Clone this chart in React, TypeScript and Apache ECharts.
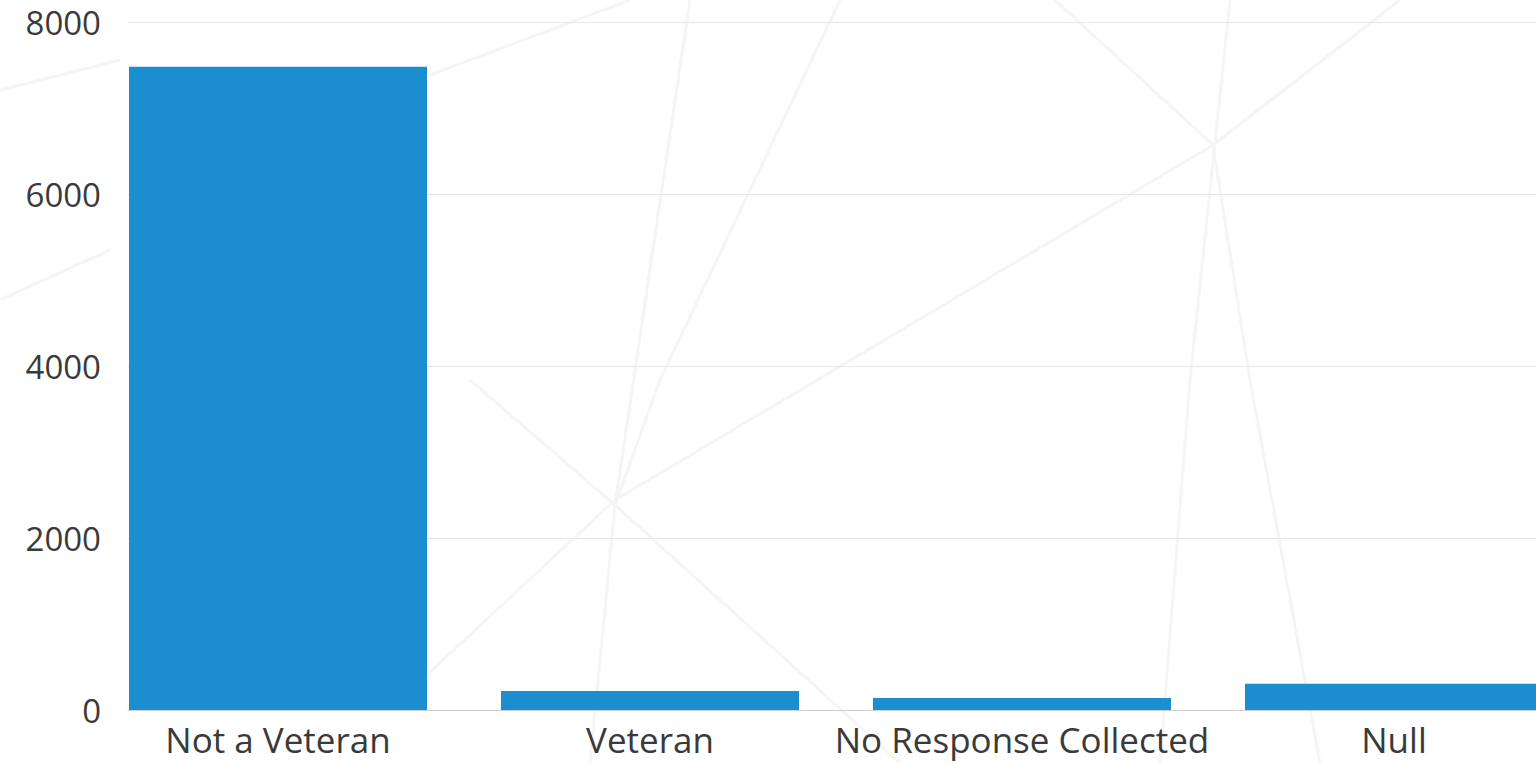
import React, { useEffect, useRef } from "react";
import * as echarts from "echarts";

const categories = ["Not a Veteran", "Veteran", "No Response Collected", "Null"];
const counts = [7480, 220, 140, 305];
const yTicks = [0, 2000, 4000, 6000, 8000];
const xPositions = [0, 1, 2, 3];

const bgLines: number[][][] = [
  [[1055, 0], [1213, 145], [1400, 0]],
  [[1400, 0], [1213, 145], [615, 500], [400, 700]],
  [[1230, 0], [1190, 380], [1160, 763]],
  [[1213, 145], [1250, 380], [1320, 763]],
  [[690, 0], [615, 505], [590, 763]],
  [[840, 0], [660, 380], [615, 505]],
  [[430, 75], [630, 0]],
  [[470, 380], [615, 505], [900, 763]],
  [[0, 90], [120, 60]],
  [[0, 300], [110, 250]],
];

export default function App() {
  const ref = useRef<HTMLDivElement>(null);
  useEffect(() => {
    if (!ref.current) return;
    const chart = echarts.init(ref.current, undefined, { renderer: "svg" });
    const font = "'Open Sans', 'Noto Sans', sans-serif";
    // band of 372px per category, first band starting at x=92, container ends at 1536
    const bandPx = 372;
    const gridLeft = 92;
    const xMax = -0.5 + (1536 - gridLeft) / bandPx;
    chart.setOption({
      animation: false,
      backgroundColor: "#ffffff",
      textStyle: { fontFamily: font },
      graphic: bgLines.map((pts) => ({
        type: "polyline",
        silent: true,
        z: -10,
        shape: { points: pts },
        style: { stroke: "#f5f5f5", lineWidth: 3, fill: null },
      })),
      grid: [
        { left: gridLeft, right: 0, top: 22, bottom: 53 },
        { left: 128, right: 0, top: 22, bottom: 53 },
      ],
      xAxis: [
        {
          type: "value",
          gridIndex: 0,
          min: -0.5,
          max: xMax,
          axisLine: { show: false },
          axisTick: { show: false },
          splitLine: { show: false },
          axisLabel: {
            color: "#3a3a3a",
            fontSize: 35,
            fontFamily: font,
            margin: 12,
            customValues: xPositions,
            formatter: (v: number) => categories[Math.round(v)] ?? "",
          },
        },
        {
          type: "value",
          gridIndex: 1,
          min: 0,
          max: 1,
          axisLine: { show: true, onZero: false, lineStyle: { color: "#cfcfcf", width: 1 } },
          axisTick: { show: false },
          axisLabel: { show: false },
          splitLine: { show: false },
        },
      ],
      yAxis: [
        {
          type: "value",
          gridIndex: 0,
          min: 0,
          max: 8000,
          interval: 2000,
          axisLine: { show: false },
          axisTick: { show: false },
          axisLabel: { show: false },
          splitLine: { show: false },
        },
        {
          type: "value",
          gridIndex: 1,
          min: 0,
          max: 8000,
          interval: 2000,
          axisLine: { show: false },
          axisTick: { show: false },
          axisLabel: {
            color: "#3a3a3a",
            fontSize: 33,
            fontFamily: font,
            margin: 27,
            customValues: yTicks,
            formatter: (v: number) => String(v),
          },
          splitLine: { show: true, lineStyle: { color: "#e6e6e6", width: 1 } },
        },
      ],
      series: [
        {
          type: "bar",
          xAxisIndex: 0,
          yAxisIndex: 0,
          data: xPositions.map((x, i) => [x, counts[i]]),
          barWidth: 298,
          clip: true,
          itemStyle: { color: "#1a8ecf" },
          z: 5,
        },
      ],
    });
    return () => chart.dispose();
  }, []);
  return <div ref={ref} style={{ width: 1536, height: 763, position: "absolute", left: 0, top: 0 }} />;
}
